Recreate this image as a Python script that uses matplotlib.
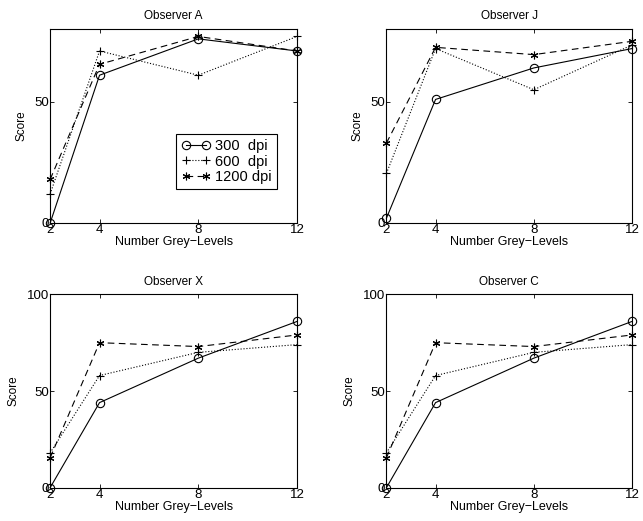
import matplotlib.pyplot as plt

plt.rcParams['font.family'] = ['Liberation Sans', 'DejaVu Sans']

levels = [2, 4, 8, 12]
series_labels = ['300  dpi', '600  dpi', '1200 dpi']

# scores per observer: 300 dpi, 600 dpi, 1200 dpi
obs_a = [[0, 61, 76, 71], [12, 71, 61, 77], [18, 65.5, 77, 71]]
obs_j = [[2, 51, 64, 72], [20.5, 72, 55, 73.5], [33, 72.5, 69.5, 75]]
obs_x = [[0, 44, 67, 86], [18, 58, 70, 74], [15.5, 75, 73, 79]]
obs_c = [[0, 44, 67, 86], [18, 58, 70, 74], [15.5, 75, 73, 79]]

titles = ['Observer A', 'Observer J', 'Observer X', 'Observer C']
ymax = [80, 80, 100, 100]

styles = [dict(ls='-', marker='o', mfc='none', ms=6),
          dict(ls=':', marker='+', ms=6),
          dict(ls='--', marker=(6, 2, 0), ms=5.5, dashes=(6, 4))]

fig = plt.figure(figsize=(6.43, 5.21), dpi=100)
boxes = [[0.078, 0.572, 0.384, 0.372], [0.601, 0.572, 0.382, 0.372],
         [0.078, 0.064, 0.384, 0.371], [0.601, 0.064, 0.382, 0.371]]

for box, data, title, ym in zip(boxes, [obs_a, obs_j, obs_x, obs_c], titles, ymax):
    ax = fig.add_axes(box)
    for vals, st, lab in zip(data, styles, series_labels):
        ax.plot(levels, vals, color='black', lw=0.8, mew=0.8, clip_on=False,
                label=lab, **st)
    ax.set_xlim(2, 12)
    ax.set_ylim(0, ym)
    ax.set_xticks(levels)
    ax.set_yticks([0, 50, 100] if ym >= 100 else [0, 50])
    ax.tick_params(direction='in', top=True, right=True, labelsize=9.5,
                   pad=1, length=3, width=0.6)
    for sp in ax.spines.values():
        sp.set_linewidth(0.8)
    ax.set_title(title, fontsize=8.5, pad=7)
    ax.set_xlabel('Number Grey\u2212Levels', fontsize=9, labelpad=0)
    ax.set_ylabel('Score', fontsize=8.5, labelpad=5)
    if title == 'Observer A':
        leg = ax.legend(loc='lower right', bbox_to_anchor=(0.918, 0.175),
                        fontsize=10.5, numpoints=2, fancybox=False,
                        edgecolor='black', framealpha=1, handlelength=2.0,
                        handletextpad=0.3, borderpad=0.35, labelspacing=0.1,
                        borderaxespad=0)
        leg.get_frame().set_linewidth(0.8)

fig.savefig('out.png', dpi=100)
